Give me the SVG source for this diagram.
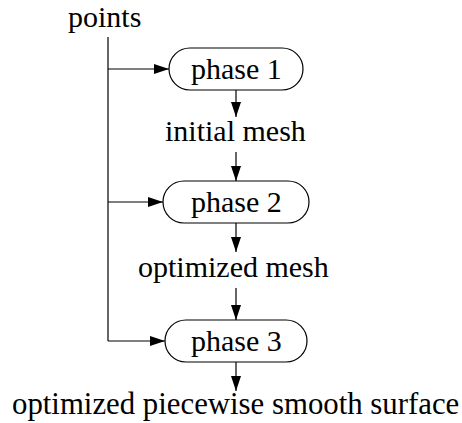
<svg xmlns="http://www.w3.org/2000/svg" width="462" height="423" viewBox="0 0 462 423">
<defs>
<marker id="ah" markerUnits="userSpaceOnUse" markerWidth="16" markerHeight="12" refX="15" refY="5" orient="auto">
<polygon points="0,0 15,5 0,10" fill="#000"/>
</marker>
</defs>
<rect width="462" height="423" fill="#fff"/>
<g id="connectors" stroke="#000" stroke-width="1.2" fill="none">
<line x1="108" y1="37" x2="108" y2="341"/>
<line x1="108" y1="69" x2="169" y2="69" marker-end="url(#ah)"/>
<line x1="108" y1="202" x2="163" y2="202" marker-end="url(#ah)"/>
<line x1="108" y1="341" x2="165" y2="341" marker-end="url(#ah)"/>
<line x1="236" y1="90" x2="236" y2="117" marker-end="url(#ah)"/>
<line x1="236" y1="152" x2="236" y2="181" marker-end="url(#ah)"/>
<line x1="236" y1="223" x2="236" y2="252" marker-end="url(#ah)"/>
<line x1="236" y1="288" x2="236" y2="320" marker-end="url(#ah)"/>
<line x1="236" y1="362" x2="236" y2="391" marker-end="url(#ah)"/>
</g>
<g id="points"><text x="68" y="27" font-family="Liberation Serif" font-size="30">points</text></g>
<g id="phase1"><rect x="169" y="48" width="134" height="42" rx="21" fill="#fff" stroke="#000" stroke-width="1.2"/><text x="191" y="79" font-family="Liberation Serif" font-size="30">phase 1</text></g>
<g id="initial-mesh"><text x="165" y="141" font-family="Liberation Serif" font-size="30">initial mesh</text></g>
<g id="phase2"><rect x="163" y="181" width="146" height="42" rx="21" fill="#fff" stroke="#000" stroke-width="1.2"/><text x="191" y="212" font-family="Liberation Serif" font-size="30">phase 2</text></g>
<g id="optimized-mesh"><text x="138" y="277" font-family="Liberation Serif" font-size="30">optimized mesh</text></g>
<g id="phase3"><rect x="165" y="320" width="142" height="42" rx="21" fill="#fff" stroke="#000" stroke-width="1.2"/><text x="191" y="351" font-family="Liberation Serif" font-size="30">phase 3</text></g>
<g id="surface"><text x="12" y="414" font-family="Liberation Serif" font-size="30.8">optimized piecewise smooth surface</text></g>
</svg>
